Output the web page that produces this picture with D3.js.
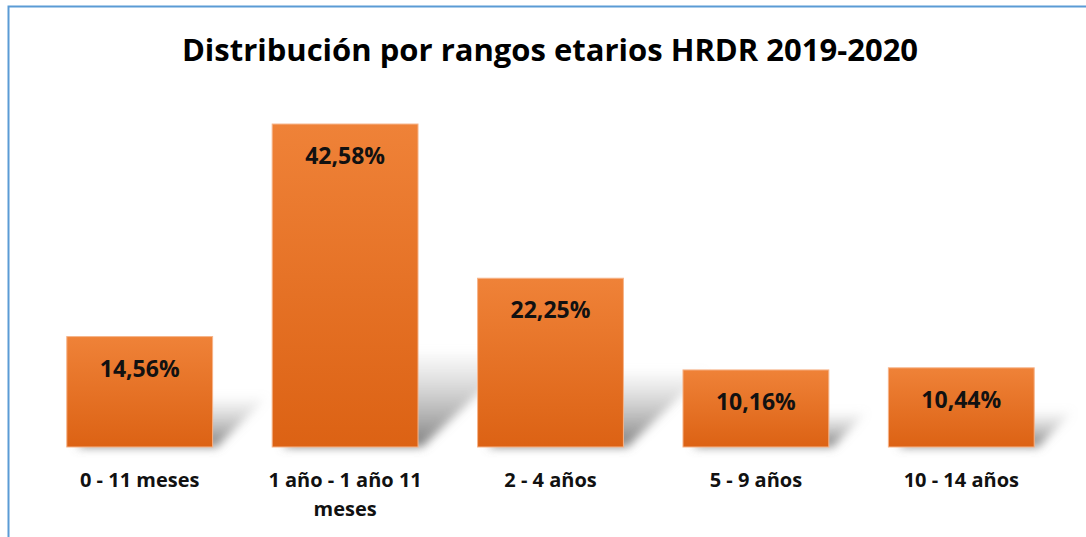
<!DOCTYPE html>
<html>
<head>
<meta charset="utf-8">
<script src="https://cdn.jsdelivr.net/npm/d3@7"></script>
<style>
  body { margin: 0; background: #fff; }
  svg { display: block; font-family: "Open Sans", Lato, sans-serif; }
</style>
</head>
<body>
<svg id="chart" width="1086" height="537"></svg>
<script>
// data
const categories = ["0 - 11 meses", "1 año - 1 año 11 meses", "2 - 4 años", "5 - 9 años", "10 - 14 años"];
const labelLines = [["0 - 11 meses"], ["1 año - 1 año 11", "meses"], ["2 - 4 años"], ["5 - 9 años"], ["10 - 14 años"]];
const values = [14.56, 42.58, 22.25, 10.16, 10.44];
const valueLabels = ["14,56%", "42,58%", "22,25%", "10,16%", "10,44%"];

const svg = d3.select("#chart");
const baseY = 447;

const x = d3.scaleBand()
    .domain(categories)
    .range([37, 1064])
    .paddingInner(0.29)
    .paddingOuter(0.145);

const y = d3.scaleLinear()
    .domain([0, 45])
    .range([baseY, baseY - 45 * 7.585]);

const defs = svg.append("defs");
const grad = defs.append("linearGradient")
    .attr("id", "barGrad")
    .attr("x1", 0).attr("y1", 0).attr("x2", 0).attr("y2", 1);
grad.append("stop").attr("offset", "0%").attr("stop-color", "#ef8238");
grad.append("stop").attr("offset", "100%").attr("stop-color", "#dc6214");

const blur = defs.append("filter").attr("id", "shadowBlur")
    .attr("x", "-30%").attr("y", "-30%").attr("width", "160%").attr("height", "160%");
blur.append("feGaussianBlur").attr("stdDeviation", 5);

const shGrad = defs.append("linearGradient")
    .attr("id", "shGrad")
    .attr("x1", 0).attr("y1", 1).attr("x2", 0).attr("y2", 0);
shGrad.append("stop").attr("offset", "0%").attr("stop-color", "#707070").attr("stop-opacity", 0.9);
shGrad.append("stop").attr("offset", "100%").attr("stop-color", "#aaaaaa").attr("stop-opacity", 0.05);

// chart border (blue, cropped at right and bottom)
svg.append("rect")
    .attr("x", 8.5).attr("y", 6.5)
    .attr("width", 1100).attr("height", 560)
    .attr("fill", "none")
    .attr("stroke", "#5b9bd5")
    .attr("stroke-width", 2);

// title
svg.append("text")
    .attr("x", 550)
    .attr("y", 61)
    .attr("text-anchor", "middle")
    .style("font-size", "31px")
    .style("font-weight", "bold")
    .style("fill", "#000")
    .text("Distribución por rangos etarios HRDR 2019-2020");

// perspective shadows behind the bars
const shadows = svg.append("g").attr("filter", "url(#shadowBlur)");
categories.forEach((c, i) => {
    const x0 = x(c), x1 = x(c) + x.bandwidth();
    const h = baseY - y(values[i]);
    const sh = Math.min(h * 0.45, 95);
    const dx = sh * 1.1;
    shadows.append("polygon")
        .attr("points", [
            [x0 + 10, baseY],
            [x1 + 4, baseY],
            [x1 + dx, baseY - sh],
            [x0 + dx, baseY - sh]
        ].map(p => p.join(",")).join(" "))
        .attr("fill", "url(#shGrad)");
});

// bars
svg.selectAll(".bar")
    .data(values)
    .enter().append("rect")
    .attr("class", "bar")
    .attr("x", (d, i) => x(categories[i]))
    .attr("y", d => y(d))
    .attr("width", x.bandwidth())
    .attr("height", d => baseY - y(d))
    .attr("fill", "url(#barGrad)")
    .attr("stroke", "#f6b48a")
    .attr("stroke-width", 1);

// value labels
svg.selectAll(".val")
    .data(values)
    .enter().append("text")
    .attr("class", "val")
    .attr("x", (d, i) => x(categories[i]) + x.bandwidth() / 2)
    .attr("y", d => y(d) + 40)
    .attr("text-anchor", "middle")
    .style("font-size", "23px")
    .style("font-weight", "bold")
    .style("fill", "#111")
    .text((d, i) => valueLabels[i]);

// category labels
categories.forEach((c, i) => {
    const t = svg.append("text")
        .attr("x", x(c) + x.bandwidth() / 2)
        .attr("y", 487)
        .attr("text-anchor", "middle")
        .style("font-size", "20px")
        .style("font-weight", "bold")
        .style("fill", "#111");
    labelLines[i].forEach((line, j) => {
        t.append("tspan")
            .attr("x", x(c) + x.bandwidth() / 2)
            .attr("dy", j === 0 ? 0 : 29)
            .text(line);
    });
});
</script>
</body>
</html>
